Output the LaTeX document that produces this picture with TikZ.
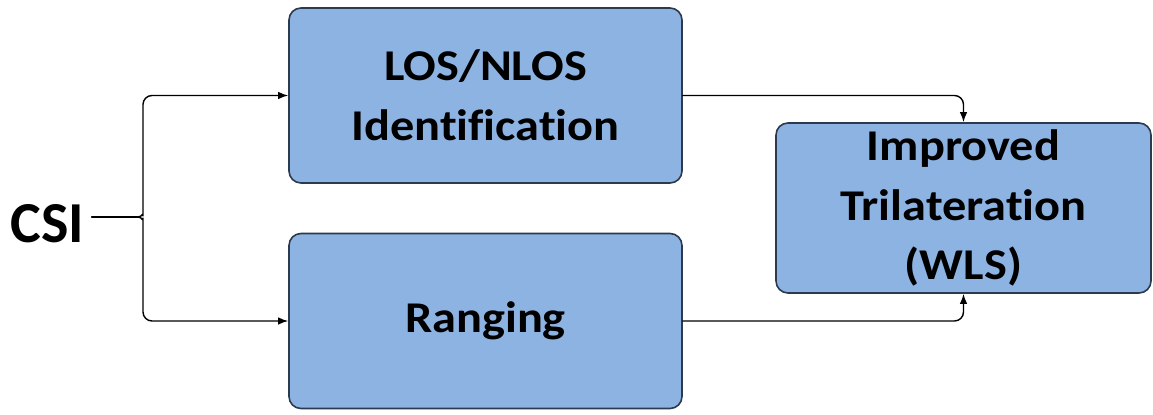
\documentclass[tikz,border=0pt]{standalone}
\usepackage{fontspec}
\setmainfont{Carlito}
\newfontfamily\blockfont{Carlito}[FakeStretch=1.1,Ligatures=NoCommon]
\usetikzlibrary{arrows.meta}

\definecolor{boxfill}{HTML}{8DB3E2}
\definecolor{boxline}{HTML}{2B3A4E}

\begin{document}
\begin{tikzpicture}[>={Latex[length=2mm,width=1.5mm]},line cap=round,line join=round,
    block/.style={draw=boxline,fill=boxfill,line width=.9pt,rounded corners=2.4mm,
      minimum width=7.86cm,minimum height=3.5cm,align=center,
      font=\blockfont\bfseries\fontsize{25}{34}\selectfont},
    link/.style={line width=.8pt,rounded corners=1.8mm}]
    \useasboundingbox (0,0) rectangle (23.06,8.28);

    % The two stages fed by the channel state information.
    \node[block] (los) at (9.71,6.37) {LOS/NLOS\\Identification};
    \node[block] (rng) at (9.71,1.86) {Ranging};

    % The stage that combines both results.
    \node[block,minimum width=7.5cm,minimum height=3.4cm] (wls) at (19.27,4.12)
      {Improved\\Trilateration\\(WLS)};

    % The input and the brace that splits it.
    \node[font=\bfseries\fontsize{33}{40}\selectfont,inner sep=4pt] (csi) at (0.95,3.8) {CSI};
    \coordinate (fork) at (2.76,3.94);
    \draw[link] (csi.east |- fork) -- (fork);
    \draw[link,->] (fork) to[out=0,in=-90] ++(0.1,0.2) |- (los.west);
    \draw[link,->] (fork) to[out=0,in=90] ++(0.1,-0.2) |- (rng.west);

    % Both results run into the trilateration block.
    \draw[link,->] (los.east) -| (wls.north);
    \draw[link,->] (rng.east) -| (wls.south);
\end{tikzpicture}
\end{document}
